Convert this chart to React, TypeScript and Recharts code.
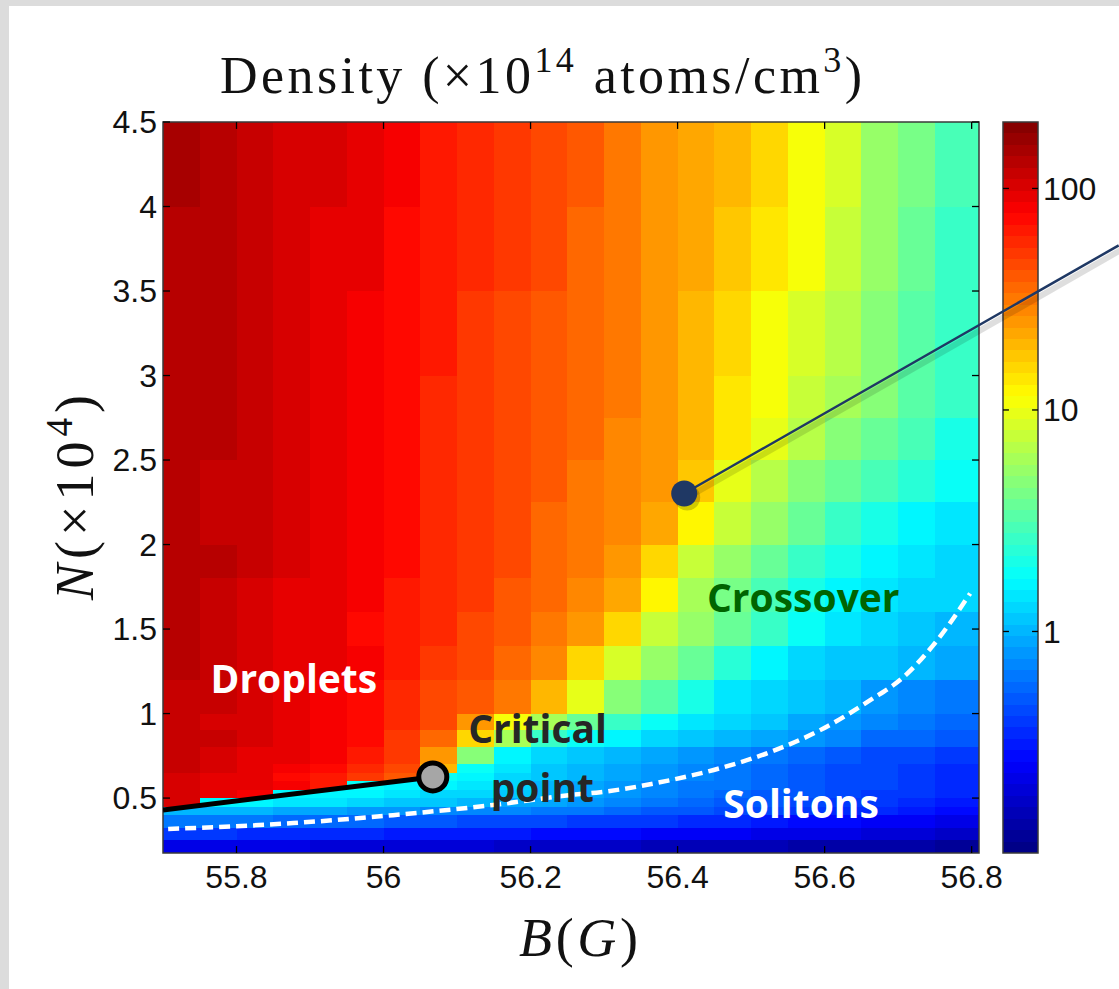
import React from "react";
import {
  ComposedChart, XAxis, YAxis, Line, Scatter, ReferenceArea, ReferenceLine,
} from "recharts";

// grid edges of the density map (B in gauss, N in units of 1e4 atoms)
const B_EDGES = [55.7, 55.75, 55.8, 55.85, 55.9, 55.95, 56.0, 56.05, 56.1, 56.15, 56.2, 56.25,
  56.3, 56.35, 56.4, 56.45, 56.5, 56.55, 56.6, 56.65, 56.7, 56.75, 56.81];
const N_EDGES = [0.175, 0.25, 0.32, 0.4, 0.45, 0.5, 0.55, 0.6, 0.65, 0.7, 0.8, 0.9, 1.0, 1.2,
  1.4, 1.6, 1.8, 2.0, 2.25, 2.5, 2.75, 3.0, 3.5, 4.0, 4.5];

// log10(density / 1e14 cm^-3), one row per N band, bottom to top
const LOG_D_0175 = [-0.66, -0.67, -0.68, -0.69, -0.70, -0.71, -0.72, -0.73, -0.74, -0.75, -0.77, -0.78, -0.79, -0.80, -0.81, -0.83, -0.84, -0.85, -0.86, -0.87, -0.88, -0.90];
const LOG_D_0250 = [-0.42, -0.43, -0.44, -0.45, -0.46, -0.47, -0.49, -0.50, -0.52, -0.53, -0.55, -0.56, -0.58, -0.60, -0.61, -0.63, -0.65, -0.67, -0.69, -0.71, -0.73, -0.75];
const LOG_D_0320 = [-0.18, -0.19, -0.21, -0.23, -0.25, -0.27, -0.29, -0.31, -0.33, -0.35, -0.37, -0.39, -0.41, -0.43, -0.45, -0.48, -0.51, -0.54, -0.57, -0.60, -0.63, -0.66];
const LOG_D_0400 = [0.02, 0.00, -0.02, -0.04, -0.07, -0.09, -0.11, -0.13, -0.15, -0.17, -0.19, -0.22, -0.25, -0.28, -0.31, -0.34, -0.38, -0.41, -0.45, -0.48, -0.51, -0.54];
const LOG_D_0450 = [2.02, 0.22, 0.20, 0.17, 0.14, 0.11, 0.08, 0.05, 0.01, -0.03, -0.07, -0.12, -0.16, -0.20, -0.24, -0.28, -0.32, -0.36, -0.40, -0.43, -0.47, -0.50];
const LOG_D_0500 = [2.03, 1.98, 1.93, 0.23, 0.22, 0.20, 0.17, 0.13, 0.09, 0.04, -0.02, -0.07, -0.12, -0.16, -0.20, -0.24, -0.28, -0.32, -0.35, -0.39, -0.42, -0.46];
const LOG_D_0550 = [2.04, 1.99, 1.94, 1.89, 1.83, 0.24, 0.22, 0.19, 0.14, 0.09, 0.03, -0.04, -0.10, -0.14, -0.18, -0.22, -0.26, -0.30, -0.34, -0.37, -0.41, -0.44];
const LOG_D_0600 = [2.04, 1.99, 1.94, 1.88, 1.81, 1.73, 1.62, 0.26, 0.20, 0.10, 0.05, 0.00, -0.05, -0.11, -0.16, -0.22, -0.26, -0.30, -0.34, -0.38, -0.42, -0.45];
const LOG_D_0650 = [2.05, 2.00, 1.96, 1.91, 1.84, 1.77, 1.67, 1.30, 0.24, 0.14, 0.08, 0.02, -0.03, -0.09, -0.14, -0.21, -0.25, -0.29, -0.33, -0.37, -0.41, -0.45];
const LOG_D_0700 = [2.07, 2.03, 1.99, 1.95, 1.89, 1.82, 1.70, 1.40, 0.68, 0.20, 0.12, 0.07, 0.02, -0.03, -0.08, -0.15, -0.21, -0.26, -0.30, -0.34, -0.38, -0.40];
const LOG_D_0800 = [2.08, 2.05, 2.01, 1.96, 1.91, 1.84, 1.72, 1.55, 1.20, 0.80, 0.40, 0.24, 0.19, 0.13, 0.07, 0.00, -0.05, -0.11, -0.17, -0.23, -0.27, -0.32];
const LOG_D_0900 = [2.08, 2.04, 2.00, 1.96, 1.92, 1.85, 1.75, 1.63, 1.40, 1.05, 0.80, 0.58, 0.40, 0.25, 0.17, 0.10, 0.04, -0.03, -0.09, -0.14, -0.19, -0.24];
const LOG_D_1000 = [2.09, 2.05, 2.00, 1.97, 1.92, 1.85, 1.77, 1.68, 1.59, 1.48, 1.30, 1.00, 0.70, 0.50, 0.33, 0.17, 0.10, 0.04, -0.01, -0.08, -0.13, -0.18];
const LOG_D_1200 = [2.10, 2.07, 2.03, 1.99, 1.95, 1.89, 1.82, 1.73, 1.63, 1.54, 1.44, 1.18, 0.92, 0.72, 0.55, 0.38, 0.20, 0.13, 0.08, 0.05, 0.00, -0.03];
const LOG_D_1400 = [2.11, 2.07, 2.03, 1.99, 1.94, 1.88, 1.82, 1.75, 1.66, 1.59, 1.50, 1.40, 1.20, 0.90, 0.74, 0.55, 0.42, 0.24, 0.14, 0.10, 0.06, 0.02];
const LOG_D_1600 = [2.12, 2.08, 2.04, 1.99, 1.95, 1.90, 1.83, 1.75, 1.69, 1.62, 1.55, 1.46, 1.36, 1.08, 0.78, 0.60, 0.45, 0.30, 0.20, 0.16, 0.13, 0.10];
const LOG_D_1800 = [2.12, 2.10, 2.05, 2.00, 1.96, 1.92, 1.85, 1.77, 1.69, 1.63, 1.56, 1.49, 1.42, 1.18, 0.90, 0.74, 0.56, 0.44, 0.30, 0.19, 0.15, 0.12];
const LOG_D_2000 = [2.13, 2.09, 2.05, 2.00, 1.96, 1.91, 1.84, 1.77, 1.70, 1.64, 1.57, 1.50, 1.43, 1.33, 1.10, 0.90, 0.72, 0.56, 0.42, 0.32, 0.22, 0.17];
const LOG_D_2250 = [2.14, 2.09, 2.05, 2.00, 1.96, 1.91, 1.85, 1.77, 1.71, 1.65, 1.58, 1.52, 1.46, 1.38, 1.22, 0.98, 0.82, 0.68, 0.57, 0.46, 0.36, 0.26];
const LOG_D_2500 = [2.14, 2.10, 2.06, 2.01, 1.97, 1.92, 1.86, 1.78, 1.72, 1.66, 1.59, 1.55, 1.47, 1.38, 1.28, 1.12, 0.96, 0.83, 0.70, 0.58, 0.46, 0.32];
const LOG_D_2750 = [2.14, 2.10, 2.06, 2.01, 1.97, 1.92, 1.86, 1.78, 1.72, 1.66, 1.60, 1.56, 1.48, 1.40, 1.29, 1.14, 1.02, 0.90, 0.78, 0.65, 0.54, 0.40];
const LOG_D_3000 = [2.14, 2.11, 2.07, 2.02, 1.98, 1.93, 1.86, 1.79, 1.73, 1.67, 1.61, 1.55, 1.48, 1.40, 1.32, 1.20, 1.06, 0.95, 0.82, 0.68, 0.53, 0.40];
const LOG_D_3500 = [2.14, 2.12, 2.08, 2.03, 1.99, 1.94, 1.88, 1.81, 1.75, 1.69, 1.63, 1.56, 1.49, 1.40, 1.34, 1.25, 1.13, 1.02, 0.86, 0.72, 0.57, 0.44];
const LOG_D_4000 = [2.15, 2.14, 2.09, 2.04, 2.00, 1.95, 1.89, 1.82, 1.76, 1.70, 1.65, 1.58, 1.52, 1.42, 1.36, 1.27, 1.17, 1.06, 0.92, 0.75, 0.62, 0.47];

const LOG_D_ROWS = [LOG_D_0175, LOG_D_0250, LOG_D_0320, LOG_D_0400, LOG_D_0450, LOG_D_0500,
  LOG_D_0550, LOG_D_0600, LOG_D_0650, LOG_D_0700, LOG_D_0800, LOG_D_0900, LOG_D_1000, LOG_D_1200,
  LOG_D_1400, LOG_D_1600, LOG_D_1800, LOG_D_2000, LOG_D_2250, LOG_D_2500, LOG_D_2750, LOG_D_3000,
  LOG_D_3500, LOG_D_4000];

// overlays
const DASHED_BOUNDARY = [
  { b: 55.707, n: 0.317 }, { b: 55.877, n: 0.352 }, { b: 56.013, n: 0.399 }, { b: 56.149, n: 0.459 },
  { b: 56.254, n: 0.518 }, { b: 56.295, n: 0.535 }, { b: 56.39, n: 0.606 }, { b: 56.458, n: 0.677 },
  { b: 56.526, n: 0.772 }, { b: 56.594, n: 0.902 }, { b: 56.662, n: 1.079 }, { b: 56.707, n: 1.215 },
  { b: 56.753, n: 1.433 }, { b: 56.798, n: 1.711 },
];
const FIRST_ORDER_LINE = [{ b: 55.7, n: 0.43 }, { b: 56.067, n: 0.625 }];
const CRITICAL_POINT = [{ b: 56.067, n: 0.625 }];
const MARKED_POINT = [{ b: 56.409, n: 2.302 }];
const POINTER_END = { b: 57.0, n: 3.77 };

const DROPLETS_AT = [{ b: 55.878, n: 1.12 }];
const CROSSOVER_AT = [{ b: 56.571, n: 1.599 }];
const CRITICAL_AT = [{ b: 56.2095, n: 0.825 }];
const POINT_AT = [{ b: 56.216, n: 0.476 }];
const SOLITONS_AT = [{ b: 56.568, n: 0.382 }];

const B_DOMAIN = [55.7, 56.81];
const N_DOMAIN = [0.175, 4.5];
const B_TICKS = [55.8, 56, 56.2, 56.4, 56.6, 56.8];
const N_TICKS = [0.5, 1, 1.5, 2, 2.5, 3, 3.5, 4, 4.5];
const CBAR_TICKS = [0, 1, 2]; // log10 -> 1, 10, 100
const C_MIN = -1;
const C_MAX = 2.3;
const LEVELS = 64;

// inward tick length, in data units of each axis (about 7 px)
const TICK_B = 0.0095;
const TICK_N = 0.041;
const TICK_CB = 0.17;

const jet = (x: number) => {
  const c = (v: number) => Math.max(0, Math.min(1, v));
  const r = c(1.5 - Math.abs(4 * x - 3));
  const g = c(1.5 - Math.abs(4 * x - 2));
  const b = c(1.5 - Math.abs(4 * x - 1));
  return `rgb(${Math.round(r * 255)},${Math.round(g * 255)},${Math.round(b * 255)})`;
};
const colorOf = (v: number) => {
  let i = Math.floor(((v - C_MIN) / (C_MAX - C_MIN)) * LEVELS);
  i = Math.max(0, Math.min(LEVELS - 1, i));
  return jet((i + 0.5) / LEVELS);
};

const cellShape = (fill: string) => (p: any) => (
  <rect x={p.x} y={p.y} width={p.width} height={p.height} fill={fill} shapeRendering="crispEdges" />
);

const textShape = (label: string, color: string) => (p: any) => (
  <text x={p.cx} y={p.cy} textAnchor="middle" fill={color}
    fontFamily="'Open Sans', sans-serif" fontWeight={700} fontSize={39}>{label}</text>
);

const tickFont = { fill: "#111", fontSize: 32, fontFamily: "'Liberation Sans', Arial, sans-serif" };
const serif = "'Liberation Serif', 'Times New Roman', serif";
const layer: React.CSSProperties = { position: "absolute", left: 0, top: 0 };
const MAIN_MARGIN = { top: 122, right: 140, bottom: 96, left: 103 };
const CBAR_MARGIN = { top: 122, right: 0, bottom: 135, left: 1003 };

const mapAxes = (show: boolean) => [
  <XAxis key="xb" dataKey="b" type="number" domain={B_DOMAIN} ticks={B_TICKS} allowDataOverflow
    height={40} tickSize={-7} tickMargin={19} axisLine={false} tickLine={false}
    tick={show ? tickFont : false} />,
  <YAxis key="yl" dataKey="n" type="number" domain={N_DOMAIN} ticks={N_TICKS} allowDataOverflow
    width={60} tickSize={-7} tickMargin={13} axisLine={false} tickLine={false}
    tick={show ? tickFont : false} />,
];

const cbarAxes = (show: boolean) => [
  <XAxis key="cx" dataKey="x" type="number" domain={[0, 1]} allowDataOverflow height={1}
    tick={false} tickLine={false} axisLine={false} />,
  <YAxis key="cr" dataKey="y" orientation="right" width={81} type="number" domain={[C_MIN, C_MAX]}
    ticks={CBAR_TICKS} allowDataOverflow tickSize={-6} tickMargin={11} axisLine={false} tickLine={false}
    tick={show ? tickFont : false}
    tickFormatter={(v: number) => String(Math.round(Math.pow(10, v)))} />,
];

const tickLine = (key: string, a: { x: number; y: number }, b: { x: number; y: number }) => (
  <ReferenceLine key={key} segment={[a, b]} stroke="#000" strokeWidth={1.3} ifOverflow="visible" />
);

export default function App() {
  const cells: React.ReactNode[] = [];
  LOG_D_ROWS.forEach((row, i) => {
    row.forEach((v, j) => {
      cells.push(
        <ReferenceArea key={`c${i}-${j}`} x1={B_EDGES[j]} x2={B_EDGES[j + 1]}
          y1={N_EDGES[i]} y2={N_EDGES[i + 1]} ifOverflow="visible" shape={cellShape(colorOf(v))} />
      );
    });
  });

  const bands: React.ReactNode[] = [];
  for (let k = 0; k < LEVELS; k++) {
    const lo = C_MIN + ((C_MAX - C_MIN) * k) / LEVELS;
    const hi = C_MIN + ((C_MAX - C_MIN) * (k + 1)) / LEVELS;
    bands.push(
      <ReferenceArea key={`b${k}`} x1={0} x2={1} y1={lo} y2={hi} ifOverflow="visible"
        shape={cellShape(jet((k + 0.5) / LEVELS))} />
    );
  }

  const mapTicks: React.ReactNode[] = [];
  B_TICKS.forEach((b) => {
    mapTicks.push(tickLine(`tb${b}`, { x: b, y: N_DOMAIN[0] }, { x: b, y: N_DOMAIN[0] + TICK_N }));
    mapTicks.push(tickLine(`tt${b}`, { x: b, y: N_DOMAIN[1] }, { x: b, y: N_DOMAIN[1] - TICK_N }));
  });
  N_TICKS.forEach((n) => {
    mapTicks.push(tickLine(`tl${n}`, { x: B_DOMAIN[0], y: n }, { x: B_DOMAIN[0] + TICK_B, y: n }));
    mapTicks.push(tickLine(`tr${n}`, { x: B_DOMAIN[1], y: n }, { x: B_DOMAIN[1] - TICK_B, y: n }));
  });

  const cbarTicks: React.ReactNode[] = [];
  CBAR_TICKS.forEach((c) => {
    cbarTicks.push(tickLine(`cl${c}`, { x: 0, y: c }, { x: TICK_CB, y: c }));
    cbarTicks.push(tickLine(`cr${c}`, { x: 1, y: c }, { x: 1 - TICK_CB, y: c }));
  });

  return (
    <div style={{ position: "absolute", left: 0, top: 0, width: 1119, height: 989, background: "#dcdcdc", overflow: "hidden" }}>
      <div style={{ position: "absolute", left: 9, top: 6, right: 0, bottom: 0, background: "#fff" }} />

      {/* colorbar */}
      <div style={layer}>
        <ComposedChart width={1119} height={989} margin={CBAR_MARGIN}>
          {cbarAxes(true)}
          {bands}
          <ReferenceArea x1={0} x2={1} y1={C_MIN} y2={C_MAX} ifOverflow="visible" fill="none" fillOpacity={0}
            stroke="#3a3a3a" strokeWidth={1.5} />
          {cbarTicks}
        </ComposedChart>
      </div>

      {/* density map cells */}
      <div style={layer}>
        <ComposedChart width={1119} height={989} margin={MAIN_MARGIN}>
          {mapAxes(false)}
          {cells}
        </ComposedChart>
      </div>

      {/* frame, ticks, phase boundaries and annotations */}
      <div style={layer}>
        <ComposedChart width={1119} height={989} margin={MAIN_MARGIN}>
          {mapAxes(true)}
          <ReferenceArea x1={B_DOMAIN[0]} x2={B_DOMAIN[1]} y1={N_DOMAIN[0]} y2={N_DOMAIN[1]}
            fill="none" fillOpacity={0} stroke="#3a3a3a" strokeWidth={1.5} />
          {mapTicks}

          <Line data={DASHED_BOUNDARY} dataKey="n" type="monotone" stroke="#fff" strokeWidth={4.5}
            strokeDasharray="11 6" dot={false} activeDot={false} isAnimationActive={false} />
          <Line data={FIRST_ORDER_LINE} dataKey="n" type="linear" stroke="#000" strokeWidth={5}
            dot={false} activeDot={false} isAnimationActive={false} />
          <Scatter data={CRITICAL_POINT} isAnimationActive={false}
            shape={(p: any) => <circle cx={p.cx} cy={p.cy} r={14} fill="#a6a6a6" stroke="#000" strokeWidth={5} />} />

          <ReferenceLine segment={[{ x: MARKED_POINT[0].b + 0.004, y: MARKED_POINT[0].n - 0.025 },
            { x: POINTER_END.b + 0.004, y: POINTER_END.n - 0.025 }]} ifOverflow="visible"
            stroke="rgba(0,0,0,0.13)" strokeWidth={6} />
          <ReferenceLine segment={[{ x: MARKED_POINT[0].b, y: MARKED_POINT[0].n },
            { x: POINTER_END.b, y: POINTER_END.n }]} ifOverflow="visible"
            stroke="#1f3864" strokeWidth={2.5} />
          <Scatter data={MARKED_POINT} isAnimationActive={false}
            shape={(p: any) => (
              <g>
                <circle cx={p.cx + 3} cy={p.cy + 4} r={13} fill="rgba(0,0,0,0.18)" />
                <circle cx={p.cx} cy={p.cy} r={13} fill="#1f3864" />
              </g>
            )} />

          <Scatter data={DROPLETS_AT} isAnimationActive={false} shape={textShape("Droplets", "#ffffff")} />
          <Scatter data={CROSSOVER_AT} isAnimationActive={false} shape={textShape("Crossover", "#006400")} />
          <Scatter data={CRITICAL_AT} isAnimationActive={false} shape={textShape("Critical", "#262626")} />
          <Scatter data={POINT_AT} isAnimationActive={false} shape={textShape("point", "#262626")} />
          <Scatter data={SOLITONS_AT} isAnimationActive={false} shape={textShape("Solitons", "#ffffff")} />
        </ComposedChart>
      </div>

      {/* title and axis labels */}
      <svg width={1119} height={989} style={{ position: "absolute", left: 0, top: 0, pointerEvents: "none" }}>
        <text x={220} y={93} fontFamily={serif} fontSize={52} fill="#111" textLength={642} lengthAdjust="spacing">
          Density (×10<tspan dy={-21} fontSize={36}>14</tspan>
          <tspan dy={21}> atoms/cm</tspan><tspan dy={-21} fontSize={36}>3</tspan><tspan dy={21}>)</tspan>
        </text>
        <text transform="translate(93 600) rotate(-90)" fontFamily={serif} fontSize={54} fill="#111"
          textLength={205} lengthAdjust="spacing">
          <tspan fontStyle="italic">N</tspan>(×10<tspan dy={-21} fontSize={37}>4</tspan><tspan dy={21}>)</tspan>
        </text>
        <text x={519} y={956} fontFamily={serif} fontSize={54} fill="#111" textLength={119} lengthAdjust="spacing">
          <tspan fontStyle="italic">B</tspan>(<tspan fontStyle="italic">G</tspan>)
        </text>
      </svg>
    </div>
  );
}
